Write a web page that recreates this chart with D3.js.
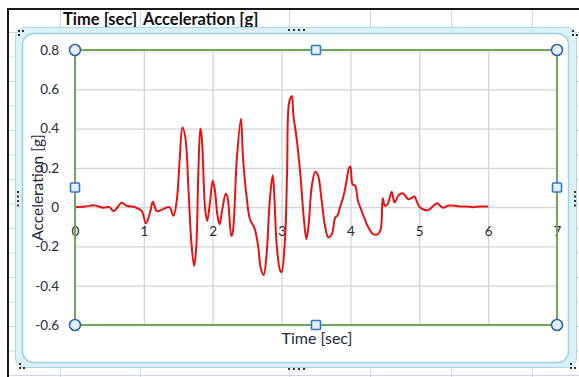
<!DOCTYPE html>
<html>
<head>
<meta charset="utf-8">
<script src="https://cdn.jsdelivr.net/npm/d3@7"></script>
<style>
  html, body { margin: 0; padding: 0; background: #ffffff; }
  svg { display: block; }
  text { font-family: Lato, "Open Sans", sans-serif; }
</style>
</head>
<body>
<svg id="sheet" width="579" height="377"></svg>
<script>
// Ground motion record: time [sec] and acceleration [g]
const timeSec = [
  0.00, 0.15, 0.27, 0.41, 0.50, 0.56, 0.68, 0.75, 0.87, 0.97,
  1.03, 1.09, 1.13, 1.19, 1.28, 1.37, 1.43, 1.48, 1.52, 1.56,
  1.60, 1.65, 1.69, 1.73, 1.76, 1.79, 1.82, 1.84, 1.89, 1.92,
  1.96, 2.00, 2.03, 2.07, 2.10, 2.14, 2.19, 2.22, 2.27, 2.29,
  2.35, 2.41, 2.44, 2.49, 2.54, 2.61, 2.66, 2.70, 2.74, 2.78,
  2.83, 2.87, 2.89, 2.93, 2.98, 3.00, 3.05, 3.08, 3.11, 3.15,
  3.17, 3.22, 3.27, 3.32, 3.36, 3.39, 3.44, 3.49, 3.53, 3.58,
  3.63, 3.68, 3.73, 3.78, 3.81, 3.85, 3.90, 3.94, 3.98, 4.00,
  4.03, 4.07, 4.11, 4.19, 4.26, 4.33, 4.40, 4.44, 4.47, 4.50,
  4.54, 4.60, 4.64, 4.70, 4.75, 4.78, 4.84, 4.90, 4.93, 4.96,
  5.00, 5.06, 5.13, 5.20, 5.26, 5.31, 5.35, 5.42, 5.49, 5.59,
  5.69, 5.78, 5.88, 6.00
];
const accelG = [
  0.000, 0.003, 0.010, -0.003, 0.000, -0.020, 0.022, 0.007, 0.000, -0.020,
  -0.083, -0.027, 0.027, -0.020, -0.010, 0.000, -0.044, 0.040, 0.240, 0.405,
  0.360, 0.075, -0.180, -0.300, -0.210, 0.160, 0.400, 0.360, -0.010, -0.070,
  0.024, 0.134, 0.090, -0.044, -0.087, -0.010, 0.070, 0.040, -0.146, -0.130,
  0.244, 0.450, 0.250, 0.060, -0.060, -0.110, -0.200, -0.315, -0.346, -0.250,
  0.040, 0.163, 0.090, -0.197, -0.324, -0.330, -0.163, 0.177, 0.533, 0.566,
  0.473, 0.346, 0.177, -0.044, -0.163, -0.100, 0.110, 0.180, 0.160, 0.040,
  -0.095, -0.154, -0.137, -0.052, -0.044, 0.000, 0.057, 0.126, 0.200, 0.207,
  0.117, 0.108, 0.032, -0.044, -0.103, -0.137, -0.137, -0.112, 0.045, 0.007,
  0.015, 0.078, 0.024, 0.061, 0.071, 0.066, 0.040, 0.050, 0.054, 0.032,
  0.003, -0.012, -0.015, 0.005, 0.020, 0.005, -0.003, 0.008, 0.008, 0.003,
  0.003, 0.000, 0.003, 0.003
];
const xTicks = [0, 1, 2, 3, 4, 5, 6, 7];
const yTicks = [-0.6, -0.4, -0.2, 0, 0.2, 0.4, 0.6, 0.8];
const headerCells = ["Time [sec]", "Acceleration [g]"];

const svg = d3.select("#sheet");

// ---- worksheet behind the chart ----
const cellLine = "#c6d9ef";
const colEdges = [60, 140, 289, 370, 451, 532];
const rowEdges = d3.range(32, 377, 24.5);
const cells = svg.append("g");
colEdges.forEach(x => cells.append("line")
  .attr("x1", x + 0.5).attr("x2", x + 0.5).attr("y1", 10).attr("y2", 377)
  .attr("stroke", cellLine));
rowEdges.forEach(y => cells.append("line")
  .attr("x1", 9).attr("x2", 579).attr("y1", y + 0.5).attr("y2", y + 0.5)
  .attr("stroke", cellLine));
svg.append("line").attr("x1", 8).attr("x2", 579).attr("y1", 9).attr("y2", 9)
  .attr("stroke", "#1a1a1a").attr("stroke-width", 2);
svg.append("line").attr("x1", 8).attr("x2", 8).attr("y1", 8).attr("y2", 377)
  .attr("stroke", "#1a1a1a").attr("stroke-width", 2);

const header = svg.append("g").attr("font-size", 16.5).attr("font-weight", 700).attr("fill", "#111");
header.append("text").attr("x", 63).attr("y", 24.5).text(headerCells[0]);
header.append("text").attr("x", 143).attr("y", 24.5).text(headerCells[1]);

// ---- chart object frame (selected) ----
svg.append("rect").attr("x", 15.5).attr("y", 27.5).attr("width", 561).attr("height", 340)
  .attr("rx", 9).attr("fill", "#dcf1f7").attr("stroke", "#a6dbe9");
svg.append("rect").attr("x", 22.5).attr("y", 33.5).attr("width", 546).attr("height", 329)
  .attr("rx", 11).attr("fill", "#ffffff").attr("stroke", "#9cd3e4").attr("stroke-width", 1.5);

// grip dots on the frame
const grips = svg.append("g").attr("fill", "#333");
const dot = (x, y) => grips.append("rect").attr("x", x - 1).attr("y", y - 1).attr("width", 2).attr("height", 2);
[[19, 31], [23, 31], [19, 35]].forEach(p => dot(...p));
[[573, 31], [573, 35], [577, 35]].forEach(p => dot(...p));
[[20, 364], [20, 368], [24, 368]].forEach(p => dot(...p));
[[571, 364], [571, 368], [575, 368]].forEach(p => dot(...p));
[289, 294, 299, 304].forEach(x => { dot(x, 30); dot(x, 369); });
[192, 196.5, 201, 205.5].forEach(y => { dot(18, y); dot(575, y); });

// ---- plot ----
const x = d3.scaleLinear().domain([0, 7]).range([75, 557]);
const y = d3.scaleLinear().domain([-0.6, 0.8]).range([325, 50]);

// gridlines
svg.append("g").attr("transform", `translate(0,${y(-0.6)})`)
  .call(d3.axisBottom(x).tickValues(xTicks).tickSize(-(y(-0.6) - y(0.8))).tickFormat(""))
  .call(g => g.select(".domain").remove())
  .call(g => g.selectAll("line").attr("stroke", "#d4d4d4").attr("stroke-width", 1.3));
svg.append("g").attr("transform", `translate(${x(0)},0)`)
  .call(d3.axisLeft(y).tickValues(yTicks).tickSize(-(x(7) - x(0))).tickFormat(""))
  .call(g => g.select(".domain").remove())
  .call(g => g.selectAll("line").attr("stroke", "#d4d4d4").attr("stroke-width", 1.3));

// tick labels (plain hyphen for negatives)
const labelColor = "#1f2a3a";
const yFmt = d => String(+d.toFixed(1));
svg.append("g").attr("transform", `translate(${x(0)},0)`)
  .call(d3.axisLeft(y).tickValues(yTicks).tickSize(0).tickPadding(16).tickFormat(yFmt))
  .call(g => g.select(".domain").remove())
  .call(g => g.selectAll("text").attr("font-family", "Lato, sans-serif").attr("font-size", 13.5).attr("fill", labelColor));
svg.append("g").attr("transform", `translate(0,${y(0)})`)
  .call(d3.axisBottom(x).tickValues(xTicks).tickSize(0).tickPadding(19).tickFormat(d => String(d)))
  .call(g => g.select(".domain").remove())
  .call(g => g.selectAll("text").attr("font-family", "Lato, sans-serif").attr("font-size", 13.5).attr("fill", labelColor));

// series
const line = d3.line()
  .x((d, i) => x(timeSec[i]))
  .y(d => y(d))
  .curve(d3.curveCatmullRom.alpha(0.5));
svg.append("path").datum(accelG).attr("d", line)
  .attr("fill", "none").attr("stroke", "#e41414").attr("stroke-width", 2)
  .attr("stroke-linejoin", "round");

// axis titles
svg.append("text").attr("transform", `translate(43,${(y(0.8) + y(-0.6)) / 2}) rotate(-90)`)
  .attr("text-anchor", "middle").attr("font-size", 15.5).attr("fill", labelColor)
  .text("Acceleration [g]");
svg.append("text").attr("x", 317).attr("y", 344).attr("text-anchor", "middle")
  .attr("font-size", 16).attr("fill", labelColor).text("Time [sec]");

// plot area (selected) border and handles
svg.append("rect").attr("x", x(0)).attr("y", y(0.8))
  .attr("width", x(7) - x(0)).attr("height", y(-0.6) - y(0.8))
  .attr("fill", "none").attr("stroke", "#72a65a").attr("stroke-width", 2);
const handles = svg.append("g");
[[x(0), y(0.8)], [x(7), y(0.8)], [x(0), y(-0.6)], [x(7), y(-0.6)]].forEach(([cx, cy]) =>
  handles.append("circle").attr("cx", cx).attr("cy", cy).attr("r", 5.5)
    .attr("fill", "#e6f0fa").attr("stroke", "#2f64a8").attr("stroke-width", 1.6));
const midX = (x(0) + x(7)) / 2, midY = (y(0.8) + y(-0.6)) / 2;
[[midX, y(0.8)], [midX, y(-0.6)], [x(0), midY], [x(7), midY]].forEach(([cx, cy]) =>
  handles.append("rect").attr("x", cx - 4.5).attr("y", cy - 4.5).attr("width", 9).attr("height", 9)
    .attr("rx", 1).attr("fill", "#e6f0fa").attr("stroke", "#2f78c8").attr("stroke-width", 1.6));
</script>
</body>
</html>
